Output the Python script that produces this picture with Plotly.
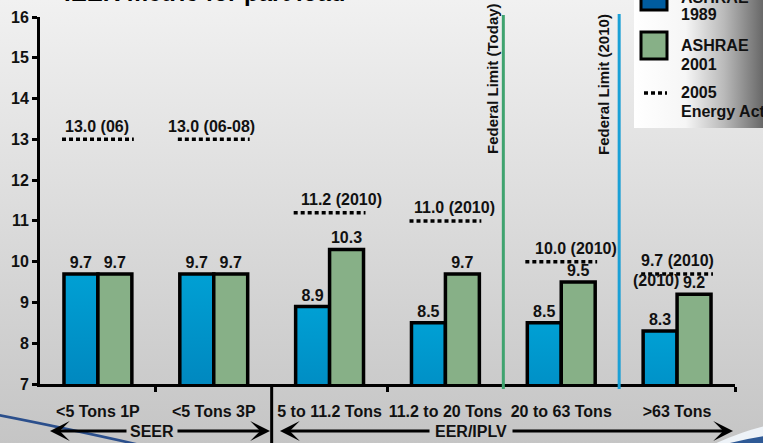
import base64
import plotly.graph_objects as go

# Efficiency requirements by equipment class
categories = ["<5 Tons 1P", "<5 Tons 3P", "5 to 11.2 Tons", "11.2 to 20 Tons",
              "20 to 63 Tons", ">63 Tons"]
ashrae_1989 = [9.7, 9.7, 8.9, 8.5, 8.5, 8.3]
ashrae_2001 = [9.7, 9.7, 10.3, 9.7, 9.5, 9.2]
energy_act_2005 = [13.0, 13.0, 11.2, 11.0, 10.0, 9.7]
energy_act_labels = ["13.0 (06)", "13.0 (06-08)", "11.2 (2010)", "11.0 (2010)",
                     "10.0 (2010)", "9.7 (2010)"]
y_ticks = [7, 8, 9, 10, 11, 12, 13, 14, 15, 16]

FONT = "Arial, Liberation Sans, sans-serif"
FS = 16
W, H = 763, 443
ML, MR, MT, MB = 40, 28, 17, 59
PW, PH = W - ML - MR, H - MT - MB


def px(x):
    """pixel column -> paper x"""
    return (x - ML) / PW


def py(y):
    """pixel row -> paper y"""
    return (H - MB - y) / PH


def svg_gradient(stops, vertical=True):
    x2, y2 = ("0", "1") if vertical else ("1", "0")
    stop_xml = "".join(f'<stop offset="{o}" stop-color="{c}"/>' for o, c in stops)
    svg = ('<svg xmlns="http://www.w3.org/2000/svg" width="100" height="100" '
           'viewBox="0 0 100 100" preserveAspectRatio="none"><defs>'
           f'<linearGradient id="g" x1="0" y1="0" x2="{x2}" y2="{y2}">{stop_xml}'
           '</linearGradient></defs><rect width="100" height="100" fill="url(#g)"/></svg>')
    return "data:image/svg+xml;base64," + base64.b64encode(svg.encode()).decode()


bold = dict(family=FONT, size=FS, color="#111", weight="bold")
x_pos = list(range(len(categories)))

fig = go.Figure()

bar_style = dict(line=dict(color="black", width=3.5))
fig.add_trace(go.Bar(
    x=x_pos, y=ashrae_1989, name="ASHRAE 1989",
    marker=dict(color="#0072ad", **bar_style),
    text=[f"{v:.1f}" for v in ashrae_1989], textposition="outside",
    textfont=bold, constraintext="none", cliponaxis=False, showlegend=False,
))
fig.add_trace(go.Bar(
    x=x_pos, y=ashrae_2001, name="ASHRAE 2001",
    marker=dict(color="#87b087", **bar_style),
    text=[f"{v:.1f}" for v in ashrae_2001], textposition="outside",
    textfont=bold, constraintext="none", cliponaxis=False, showlegend=False,
))

# 2005 Energy Act levels as dotted segments across each group
dx, dy = [], []
for i, v in enumerate(energy_act_2005):
    dx += [i - 0.31, i + 0.31, None]
    dy += [v, v, None]
fig.add_trace(go.Scatter(
    x=dx, y=dy, mode="lines", name="2005 Energy Act",
    line=dict(color="black", width=3.5, dash="4px,3px"),
    showlegend=False, hoverinfo="skip",
))

label_shift = [-1, -2, 12, 9, 15, 0]
annotations = []
for i, (v, lab) in enumerate(zip(energy_act_2005, energy_act_labels)):
    annotations.append(dict(
        x=i, y=v, xref="x", yref="y", text=lab, showarrow=False,
        xshift=label_shift[i], yshift=13, yanchor="middle", font=bold,
    ))

# stray year tag beside the last green value
annotations.append(dict(
    x=5, y=ashrae_2001[5], xref="x", yref="y", text="(2010)", showarrow=False,
    xshift=-21, yshift=14, yanchor="middle", font=bold,
))

# title, partly above the page edge
annotations.append(dict(
    x=px(204), y=py(-7), xref="paper", yref="paper", text="IEER metric for part load",
    showarrow=False, xanchor="center", yanchor="middle",
    font=dict(family=FONT, size=24, color="#000", weight="bold"),
))

# federal limit labels
for text, xc, yc in [("Federal Limit (Today)", 492, 79), ("Federal Limit (2010)", 604, 85)]:
    annotations.append(dict(
        x=px(xc), y=py(yc), xref="paper", yref="paper", text=text, textangle=-90,
        showarrow=False, xanchor="center", yanchor="middle",
        font=dict(family=FONT, size=15, color="#111", weight="bold"),
    ))

# legend block
legend_lines = [("ASHRAE", -3), ("1989", 15), ("ASHRAE", 46), ("2001", 64),
                ("2005", 92), ("Energy Act", 111)]
for text, yc in legend_lines:
    annotations.append(dict(
        x=px(679), y=py(yc), xref="paper", yref="paper", text=text, showarrow=False,
        xanchor="left", yanchor="middle", font=bold,
    ))

# metric range arrows below the axis
arrow_y = py(431)
for text, xc, left_tip, right_tip, half in [("SEER", 152, 50, 270, 24),
                                            ("EER/IPLV", 471, 280, 733, 40)]:
    annotations.append(dict(
        x=px(xc), y=arrow_y, xref="paper", yref="paper", text=text, showarrow=False,
        xanchor="center", yanchor="middle", font=bold,
    ))
    for tip, tail in [(left_tip, xc - half), (right_tip, xc + half)]:
        annotations.append(dict(
            x=px(tip), y=arrow_y, xref="paper", yref="paper", text="",
            showarrow=True, ax=tail - tip, ay=0, axref="pixel", ayref="pixel",
            arrowhead=3, arrowsize=1.1, arrowwidth=3, arrowcolor="black",
        ))

shapes = [
    # section divider below the axis
    dict(type="line", xref="x", yref="paper", x0=1.5, x1=1.5, y0=0, y1=py(450),
         line=dict(color="black", width=3)),
    # federal limit markers
    dict(type="line", xref="x", yref="paper", x0=3.5, x1=3.5, y0=py(389), y1=py(15),
         line=dict(color="#3fa36f", width=3)),
    dict(type="line", xref="x", yref="paper", x0=4.5, x1=4.5, y0=py(389), y1=py(14),
         line=dict(color="#1aa0d6", width=3)),
    # legend swatches
    dict(type="rect", xref="paper", yref="paper", x0=px(641), x1=px(667),
         y0=py(-17), y1=py(10), fillcolor="#005c9f", line=dict(color="black", width=3)),
    dict(type="rect", xref="paper", yref="paper", x0=px(641), x1=px(667),
         y0=py(32), y1=py(59), fillcolor="#87b087", line=dict(color="black", width=3)),
    dict(type="line", xref="paper", yref="paper", x0=px(644), x1=px(667),
         y0=py(93), y1=py(93), line=dict(color="black", width=3.5, dash="4px,3px")),
    # slide swooshes in the lower corners
    dict(type="path", xref="paper", yref="paper",
         path=f"M {px(-2)},{py(415)} Q {px(60)},{py(427)} {px(140)},{py(445)}",
         line=dict(color="#2b4f8c", width=2.5)),
    dict(type="path", xref="paper", yref="paper",
         path=(f"M {px(712)},{py(445)} Q {px(740)},{py(432)} {px(765)},{py(426)} "
               f"L {px(765)},{py(445)} Z"),
         fillcolor="#eef3f8", line=dict(width=0)),
    dict(type="path", xref="paper", yref="paper",
         path=(f"M {px(722)},{py(445)} Q {px(745)},{py(439)} {px(765)},{py(436)} "
               f"L {px(765)},{py(445)} Z"),
         fillcolor="#2f5a96", line=dict(width=0)),
]

images = [
    dict(source=svg_gradient([(0, "#f1f1f1"), (1, "#c5c5c5")]),
         xref="paper", yref="paper", x=px(0), y=py(0), sizex=W / PW, sizey=H / PH,
         sizing="stretch", xanchor="left", yanchor="top", layer="below"),
    dict(source=svg_gradient([(0, "#ffffff"), (0.4, "#f6f6f6"), (0.7, "#b9b9b9"),
                              (1, "#686868")], vertical=False),
         xref="paper", yref="paper", x=px(634), y=py(-5), sizex=(W - 634) / PW,
         sizey=133 / PH, sizing="stretch", xanchor="left", yanchor="top", layer="below"),
]

fig.update_layout(
    template="none",
    width=W, height=H,
    margin=dict(l=ML, r=MR, t=MT, b=MB, pad=0),
    paper_bgcolor="#d9d9d9",
    plot_bgcolor="rgba(0,0,0,0)",
    barmode="group", bargap=0.414, bargroupgap=0,
    showlegend=False,
    font=dict(family=FONT, color="#111"),
    xaxis=dict(
        range=[-0.5, 5.5], tickvals=x_pos, ticktext=categories, ticks="",
        showline=True, linecolor="black", linewidth=3, showgrid=False, zeroline=False,
        tickfont=bold, ticklabelstandoff=11, automargin=False,
        minor=dict(tickvals=[0.5, 2.5, 5.5], ticks="outside", ticklen=5,
                   tickwidth=3, tickcolor="black", showgrid=False),
    ),
    yaxis=dict(
        range=[7, 16], tickvals=y_ticks, ticks="outside", ticklen=5, tickwidth=3,
        tickcolor="black", showline=True, linecolor="black", linewidth=3,
        showgrid=False, zeroline=False, automargin=False, tickfont=bold,
    ),
    annotations=annotations,
    shapes=shapes,
    images=images,
)

# vertical shading on the ASHRAE 1989 bars
post_script = """
var gd = document.getElementById('{plot_id}');
function shadeBars() {
  var svg = gd.querySelector('svg.main-svg');
  var ns = 'http://www.w3.org/2000/svg';
  var defs = svg.querySelector('defs');
  if (!svg.querySelector('#blueBarGrad')) {
    var lg = document.createElementNS(ns, 'linearGradient');
    lg.setAttribute('id', 'blueBarGrad');
    lg.setAttribute('x1', '0'); lg.setAttribute('y1', '0');
    lg.setAttribute('x2', '0'); lg.setAttribute('y2', '1');
    [['0', '#00a0d4'], ['1', '#004a8a']].forEach(function (s) {
      var st = document.createElementNS(ns, 'stop');
      st.setAttribute('offset', s[0]);
      st.setAttribute('stop-color', s[1]);
      lg.appendChild(st);
    });
    defs.appendChild(lg);
  }
  var traces = gd.querySelectorAll('g.trace.bars');
  if (traces.length) {
    traces[0].querySelectorAll('g.point path').forEach(function (p) {
      p.style.fill = 'url(#blueBarGrad)';
    });
  }
}
shadeBars();
gd.on('plotly_afterplot', shadeBars);
"""

fig.write_html("out.html", post_script=post_script)
